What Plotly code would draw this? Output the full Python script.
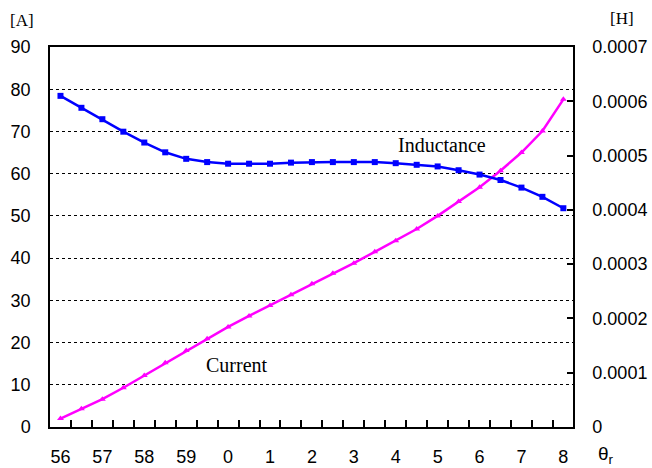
import plotly.graph_objects as go

# Rotor angle positions (half-step sampling) and the labels shown on the axis
theta_pos = [0, 0.5, 1, 1.5, 2, 2.5, 3, 3.5, 4, 4.5, 5, 5.5, 6, 6.5,
             7, 7.5, 8, 8.5, 9, 9.5, 10, 10.5, 11, 11.5, 12]
theta_labels = ["56", "57", "58", "59", "0", "1", "2", "3", "4", "5", "6", "7", "8"]

# Phase current [A]
current = [2.0, 4.3, 6.6, 9.3, 12.2, 15.2, 18.1, 20.9, 23.7, 26.3, 28.8, 31.3, 33.9,
           36.4, 38.8, 41.5, 44.1, 46.9, 50.0, 53.4, 56.8, 60.7, 65.0, 70.1, 77.6]

# Inductance [H]
inductance = [0.000610, 0.000588, 0.000567, 0.000544, 0.000524, 0.000506, 0.000494,
              0.000488, 0.000485, 0.000485, 0.000485, 0.000487, 0.000488, 0.000488,
              0.000488, 0.000488, 0.000486, 0.000483, 0.000480, 0.000473, 0.000465,
              0.000455, 0.000441, 0.000424, 0.000403]

left_ticks = [0, 10, 20, 30, 40, 50, 60, 70, 80, 90]
right_ticks = [0, 0.0001, 0.0002, 0.0003, 0.0004, 0.0005, 0.0006, 0.0007]
right_labels = ["0", "0.0001", "0.0002", "0.0003", "0.0004", "0.0005", "0.0006", "0.0007"]

# Tick marks sit on the boundaries between samples
boundary_ticks = [p + 0.25 for p in theta_pos[:-1]]

SANS = "Liberation Sans, Arial, sans-serif"
SERIF = "Liberation Serif, Times New Roman, serif"
X_RANGE = [-0.25, 12.23]

fig = go.Figure()

fig.add_trace(go.Scatter(
    x=theta_pos, y=current, mode="lines+markers", name="Current",
    line=dict(color="#ff00ff", width=2.5),
    marker=dict(symbol="triangle-up", size=6, color="#ff00ff"),
    xaxis="x", yaxis="y",
))
fig.add_trace(go.Scatter(
    x=theta_pos, y=inductance, mode="lines+markers", name="Inductance",
    line=dict(color="#0000ff", width=2.5),
    marker=dict(symbol="square", size=6, color="#0000ff"),
    xaxis="x", yaxis="y2",
))
# Invisible carrier trace so the boundary-tick axis is drawn
fig.add_trace(go.Scatter(
    x=[theta_pos[0]], y=[current[0]], mode="markers", opacity=0,
    hoverinfo="skip", showlegend=False, xaxis="x2", yaxis="y",
))

fig.update_layout(
    width=652, height=468,
    margin=dict(l=50, r=79, t=47, b=41, autoexpand=False),
    paper_bgcolor="white", plot_bgcolor="white",
    showlegend=False,
    font=dict(family=SANS, size=18, color="black"),
    xaxis=dict(
        range=X_RANGE, automargin=False,
        tickmode="array", tickvals=list(range(13)), ticktext=theta_labels,
        ticks="", showgrid=False, zeroline=False,
        showline=True, linecolor="black", linewidth=1.5, mirror=True,
        ticklabelstandoff=13,
    ),
    xaxis2=dict(
        range=X_RANGE, overlaying="x", side="bottom", anchor="y", automargin=False,
        tickmode="array", tickvals=boundary_ticks, showticklabels=False,
        ticks="inside", ticklen=7, tickcolor="black", tickwidth=1.5,
        showgrid=False, zeroline=False, showline=False,
    ),
    yaxis=dict(
        range=[0, 90], tickmode="array", tickvals=left_ticks, automargin=False,
        ticks="", showgrid=True, gridcolor="black", griddash="dot", gridwidth=1,
        zeroline=False, showline=True, linecolor="black", linewidth=1.5,
        ticklabelstandoff=14,
    ),
    yaxis2=dict(
        range=[0, 0.0007], overlaying="y", side="right", automargin=False,
        tickmode="array", tickvals=right_ticks, ticktext=right_labels,
        ticks="inside", ticklen=6, tickcolor="black", tickwidth=1.5,
        showgrid=False, zeroline=False,
        showline=True, linecolor="black", linewidth=1.5,
        ticklabelstandoff=14,
    ),
)

annotations = [
    dict(text="[A]", x=-0.0536, y=1.071, font=dict(family=SERIF, size=17)),
    dict(text="[H]", x=1.094, y=1.074, font=dict(family=SERIF, size=17)),
    dict(text="θ<sub>r</sub>", x=1.064, y=-0.074, font=dict(family=SANS, size=19)),
]
for a in annotations:
    fig.add_annotation(xref="paper", yref="paper", showarrow=False,
                       xanchor="center", yanchor="middle", **a)

# Curve labels placed in data coordinates
fig.add_annotation(x=9.1, y=66.8, xref="x", yref="y", text="Inductance",
                   showarrow=False, font=dict(family=SERIF, size=20))
fig.add_annotation(x=4.21, y=14.7, xref="x", yref="y", text="Current",
                   showarrow=False, font=dict(family=SERIF, size=20))

fig.write_html("out.html")
